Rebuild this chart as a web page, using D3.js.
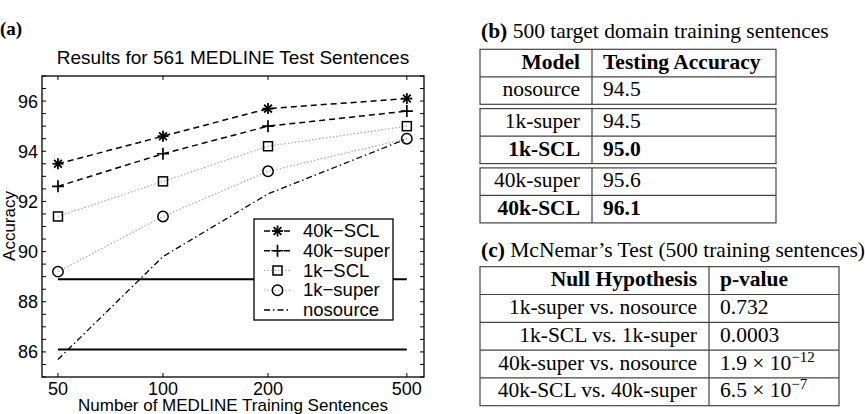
<!DOCTYPE html>
<html>
<head>
<meta charset="utf-8">
<script src="https://cdn.jsdelivr.net/npm/d3@7"></script>
<style>
  body { margin: 0; background: #fff; }
  svg text { fill: #000; }
  .sans { font-family: "Liberation Sans", Arial, sans-serif; }
  .serif { font-family: "Liberation Serif", "Times New Roman", serif; }
</style>
</head>
<body>
<svg id="chart" width="865" height="414"></svg>
<script>
// ---- data ----
const trainSizes = [50, 100, 200, 500];
const seriesNames = ["40k\u2212SCL", "40k\u2212super", "1k\u2212SCL", "1k\u2212super", "nosource"];
const scl40k   = [93.5, 94.6, 95.7, 96.1];
const super40k = [92.6, 93.9, 95.0, 95.6];
const scl1k    = [91.4, 92.8, 94.2, 95.0];
const super1k  = [89.2, 91.4, 93.2, 94.5];
const nosource = [85.7, 89.8, 92.3, 94.5];
const refLines = [88.9, 86.1];
const yTickLabels = [86, 88, 90, 92, 94, 96];

const modelNames = ["nosource", "1k-super", "1k-SCL", "40k-super", "40k-SCL"];
const modelAcc = ["94.5", "94.5", "95.0", "95.6", "96.1"];
const modelBold = [false, false, true, false, true];
const modelGroup = [0, 1, 1, 2, 2];

const hypotheses = ["1k-super vs. nosource", "1k-SCL vs. 1k-super", "40k-super vs. nosource", "40k-SCL vs. 40k-super"];
const pMantissa = ["0.732", "0.0003", "1.9 \u00d7 10", "6.5 \u00d7 10"];
const pExponent = ["", "", "\u221212", "\u22127"];

const svg = d3.select("#chart");

// ---- panel (a) ----
const x = d3.scaleLog().domain([45, 560]).range([42, 424]);
const y = d3.scaleLinear().domain([85, 97]).range([377, 76]);

svg.append("text").attr("class", "serif").attr("x", 0).attr("y", 35)
  .style("font-size", "19px").style("font-weight", "bold").text("(a)");

svg.append("text").attr("class", "sans").attr("x", 233).attr("y", 64)
  .attr("text-anchor", "middle").style("font-size", "19px")
  .text("Results for 561 MEDLINE Test Sentences");

const plot = svg.append("g");

// ticks (inward, mirrored)
const yMinor = d3.range(85, 97.001, 0.5);
plot.selectAll(".ytl").data(yMinor).join("line")
  .attr("x1", x.range()[0]).attr("x2", x.range()[0] + 4)
  .attr("y1", d => y(d)).attr("y2", d => y(d))
  .attr("stroke", "#000").attr("stroke-width", 1);
plot.selectAll(".ytr").data(yMinor).join("line")
  .attr("x1", x.range()[1]).attr("x2", x.range()[1] - 4)
  .attr("y1", d => y(d)).attr("y2", d => y(d))
  .attr("stroke", "#000").attr("stroke-width", 1);
plot.selectAll(".xtb").data(trainSizes).join("line")
  .attr("x1", d => x(d)).attr("x2", d => x(d))
  .attr("y1", y.range()[0]).attr("y2", y.range()[0] - 4)
  .attr("stroke", "#000").attr("stroke-width", 1);
plot.selectAll(".xtt").data(trainSizes).join("line")
  .attr("x1", d => x(d)).attr("x2", d => x(d))
  .attr("y1", y.range()[1]).attr("y2", y.range()[1] + 4)
  .attr("stroke", "#000").attr("stroke-width", 1);

plot.selectAll(".ylab").data(yTickLabels).join("text")
  .attr("class", "sans").attr("x", x.range()[0] - 4).attr("y", d => y(d) + 6.5)
  .attr("text-anchor", "end").style("font-size", "18px").text(d => d);
plot.selectAll(".xlab").data(trainSizes).join("text")
  .attr("class", "sans").attr("x", d => x(d)).attr("y", 394.5)
  .attr("text-anchor", "middle").style("font-size", "18px").text(d => d);

svg.append("text").attr("class", "sans")
  .attr("transform", "translate(15,226) rotate(-90)")
  .attr("text-anchor", "middle").style("font-size", "17px").text("Accuracy");
svg.append("text").attr("class", "sans").attr("x", 233).attr("y", 410.5)
  .attr("text-anchor", "middle").style("font-size", "17px")
  .text("Number of MEDLINE Training Sentences");

// reference lines
plot.selectAll(".ref").data(refLines).join("line")
  .attr("x1", x(50)).attr("x2", x(500))
  .attr("y1", d => y(d)).attr("y2", d => y(d))
  .attr("stroke", "#000").attr("stroke-width", 2);

const series = [
  {name: seriesNames[0], vals: scl40k,   color: "#000", dash: "6,4",       width: 1.5, marker: "star"},
  {name: seriesNames[1], vals: super40k, color: "#000", dash: "6,4",       width: 1.5, marker: "plus"},
  {name: seriesNames[2], vals: scl1k,    color: "#aaa", dash: "1.5,2",     width: 1.2, marker: "square"},
  {name: seriesNames[3], vals: super1k,  color: "#aaa", dash: "1.5,2",     width: 1.2, marker: "circle"},
  {name: seriesNames[4], vals: nosource, color: "#000", dash: "6,3,1.5,3", width: 1.3, marker: null}
];

function drawMarker(g, type) {
  if (type == "star") {
    [0, 45, 90, 135].forEach(a => {
      g.append("line").attr("x1", -5.5).attr("x2", 5.5).attr("y1", 0).attr("y2", 0)
        .attr("transform", `rotate(${a})`).attr("stroke", "#000").attr("stroke-width", 1.8);
    });
  } else if (type == "plus") {
    g.append("path").attr("d", "M-6,0H6M0,-6V6").attr("stroke", "#000").attr("stroke-width", 1.7);
  } else if (type == "square") {
    g.append("rect").attr("x", -4.5).attr("y", -4.5).attr("width", 9).attr("height", 9)
      .attr("fill", "none").attr("stroke", "#000").attr("stroke-width", 1.5);
  } else if (type == "circle") {
    g.append("circle").attr("r", 5.2).attr("fill", "none").attr("stroke", "#000").attr("stroke-width", 1.5);
  }
}

const line = d3.line().x((d, i) => x(trainSizes[i])).y(d => y(d));

series.forEach(s => {
  plot.append("path").attr("d", line(s.vals)).attr("fill", "none")
    .attr("stroke", s.color).attr("stroke-width", s.width).attr("stroke-dasharray", s.dash);
  if (s.marker) {
    s.vals.forEach((v, i) => {
      const g = plot.append("g").attr("transform", `translate(${x(trainSizes[i])},${y(v)})`);
      drawMarker(g, s.marker);
    });
  }
});

// frame
plot.append("rect").attr("x", x.range()[0]).attr("y", y.range()[1])
  .attr("width", x.range()[1] - x.range()[0]).attr("height", y.range()[0] - y.range()[1])
  .attr("fill", "none").attr("stroke", "#000").attr("stroke-width", 1.3);

// legend
const legend = svg.append("g").attr("transform", "translate(254,219)");
legend.append("rect").attr("width", 139).attr("height", 101)
  .attr("fill", "#fff").attr("stroke", "#000").attr("stroke-width", 1.3);
const ly = d3.scalePoint().domain(seriesNames).range([12, 91]);
series.forEach(s => {
  const row = legend.append("g").attr("transform", `translate(0,${ly(s.name)})`);
  row.append("line").attr("x1", 10).attr("x2", 37).attr("y1", 0).attr("y2", 0)
    .attr("stroke", s.color).attr("stroke-width", s.width).attr("stroke-dasharray", s.dash);
  if (s.marker) drawMarker(row.append("g").attr("transform", "translate(23.5,0)"), s.marker);
  row.append("text").attr("class", "sans").attr("x", 49).attr("y", 6)
    .style("font-size", "18.5px").text(s.name);
});

// ---- panel (b) ----
const tb = svg.append("g").attr("class", "serif").style("font-size", "21.5px");
const bTitle = tb.append("text").attr("x", 481).attr("y", 38);
bTitle.append("tspan").style("font-weight", "bold").text("(b)");
bTitle.append("tspan").text(" 500 target domain training sentences");

const rowH = 27.5, gapH = 4.3;
const bX0 = 480, bDiv = 592, bX1 = 776;
// row index 0 = header; rows 1..5 = models
function bRowTop(r) {
  const grp = r == 0 ? 0 : modelGroup[r - 1];
  return 49.3 + r * rowH + grp * gapH;
}
const bStroke = "#444";
[0, 1, 2].forEach(gi => {
  const rows = d3.range(6).filter(r => (r == 0 ? 0 : modelGroup[r - 1]) == gi);
  const top = bRowTop(rows[0]);
  const h = rows.length * rowH;
  tb.append("rect").attr("x", bX0).attr("y", top).attr("width", bX1 - bX0).attr("height", h)
    .attr("fill", "none").attr("stroke", bStroke).attr("stroke-width", 1.2);
  tb.append("line").attr("x1", bDiv).attr("x2", bDiv).attr("y1", top).attr("y2", top + h)
    .attr("stroke", bStroke).attr("stroke-width", 1.2);
  rows.slice(1).forEach(r => {
    tb.append("line").attr("x1", bX0).attr("x2", bX1).attr("y1", bRowTop(r)).attr("y2", bRowTop(r))
      .attr("stroke", bStroke).attr("stroke-width", 1.2);
  });
});
const bRows = [{m: "Model", a: "Testing Accuracy", b: true}]
  .concat(modelNames.map((m, i) => ({m: m, a: modelAcc[i], b: modelBold[i]})));
bRows.forEach((d, r) => {
  const base = bRowTop(r) + 19.5;
  tb.append("text").attr("x", bDiv - 12).attr("y", base).attr("text-anchor", "end")
    .style("font-weight", d.b ? "bold" : "normal").text(d.m);
  tb.append("text").attr("x", bDiv + 11).attr("y", base)
    .style("font-weight", d.b ? "bold" : "normal").text(d.a);
});

// ---- panel (c) ----
const tc = svg.append("g").attr("class", "serif").style("font-size", "21.5px");
const cTitle = tc.append("text").attr("x", 481).attr("y", 257);
cTitle.append("tspan").style("font-weight", "bold").text("(c)");
cTitle.append("tspan").text(" McNemar\u2019s Test (500 training sentences)");

const cX0 = 480, cDiv = 709, cX1 = 839, cTop = 266.7, cRowH = 27.8;
const cy = d3.scaleLinear().domain([0, hypotheses.length + 1]).range([cTop, cTop + (hypotheses.length + 1) * cRowH]);
tc.append("rect").attr("x", cX0).attr("y", cy(0)).attr("width", cX1 - cX0).attr("height", cy(5) - cy(0))
  .attr("fill", "none").attr("stroke", bStroke).attr("stroke-width", 1.2);
tc.append("line").attr("x1", cDiv).attr("x2", cDiv).attr("y1", cy(0)).attr("y2", cy(5))
  .attr("stroke", bStroke).attr("stroke-width", 1.2);
d3.range(1, 5).forEach(r => {
  tc.append("line").attr("x1", cX0).attr("x2", cX1).attr("y1", cy(r)).attr("y2", cy(r))
    .attr("stroke", bStroke).attr("stroke-width", 1.2);
});
tc.append("text").attr("x", cDiv - 12).attr("y", cy(0) + 19.5).attr("text-anchor", "end")
  .style("font-weight", "bold").text("Null Hypothesis");
tc.append("text").attr("x", cDiv + 11).attr("y", cy(0) + 19.5)
  .style("font-weight", "bold").text("p-value");
hypotheses.forEach((h, i) => {
  tc.append("text").attr("x", cDiv - 12).attr("y", cy(i + 1) + 19.5).attr("text-anchor", "end").text(h);
  const t = tc.append("text").attr("x", cDiv + 11).attr("y", cy(i + 1) + 19.5);
  t.append("tspan").text(pMantissa[i]);
  if (pExponent[i]) t.append("tspan").attr("dy", -8).style("font-size", "15px").text(pExponent[i]);
});
</script>
</body>
</html>
